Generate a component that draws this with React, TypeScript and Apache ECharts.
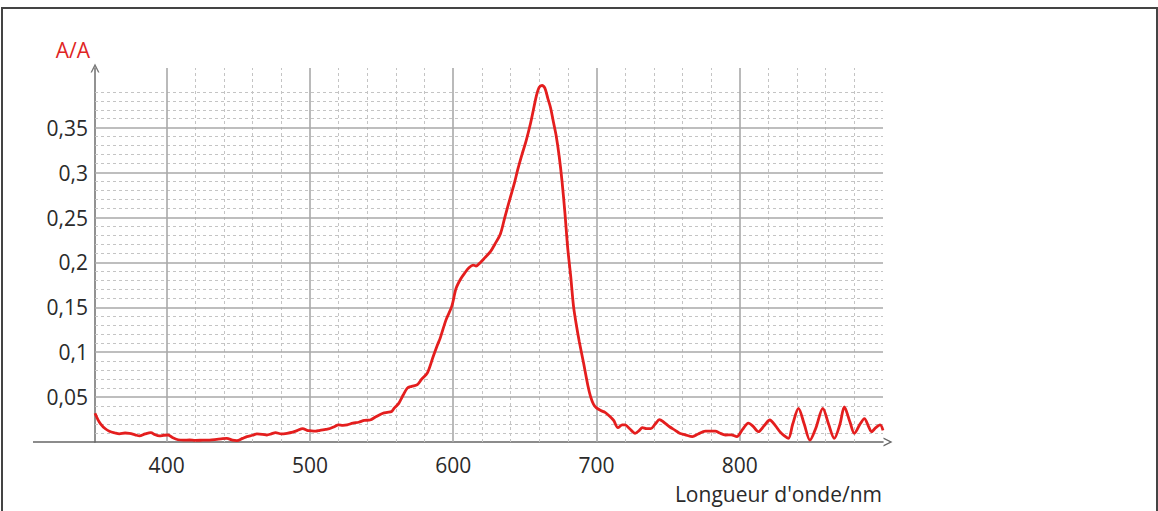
import React, { useEffect, useRef } from "react";
import * as echarts from "echarts";

const wavelengths = [
  350, 352, 354, 357, 360, 364, 367, 371, 374, 378, 381, 385, 389, 392, 395, 398,
  401, 404, 408, 412, 416, 420, 425, 430, 435, 438, 442, 446, 449, 453, 456, 460,
  463, 467, 470, 473, 476, 480, 484, 488, 491, 495, 498, 500, 504, 507, 511, 514,
  517, 520, 523, 526, 530, 534, 538, 542, 546, 551, 554, 557, 559, 562, 565, 568,
  571, 575, 578, 582, 586, 589, 591, 595, 599, 602, 605, 608, 611, 614, 616, 619,
  622, 626, 629, 633, 636, 640, 643, 645, 648, 651, 654, 656, 658, 660, 662, 664,
  666, 668, 670, 672, 674, 676, 678, 680, 682, 684, 686, 688, 691, 694, 696, 698,
  700, 703, 706, 709, 712, 715, 718, 720, 723, 727, 730, 732, 735, 738, 741, 744,
  747, 751, 755, 758, 762, 767, 771, 776, 780, 783, 786, 790, 794, 798, 802, 806,
  809, 813, 817, 821, 825, 828, 831, 834, 837, 841, 845, 849, 853, 858, 862, 866,
  870, 873, 877, 880, 884, 887, 890, 892, 895, 898, 900,
];

const absorbance = [
  0.032, 0.025, 0.02, 0.015, 0.012, 0.01, 0.009, 0.01, 0.0095, 0.008, 0.0068, 0.009, 0.0105, 0.008, 0.0068, 0.0075,
  0.0078, 0.005, 0.0025, 0.002, 0.0022, 0.0018, 0.002, 0.0022, 0.003, 0.0035, 0.004, 0.002, 0.0015, 0.004, 0.006, 0.0075,
  0.009, 0.0085, 0.0078, 0.009, 0.0104, 0.009, 0.0097, 0.011, 0.0126, 0.015, 0.013, 0.0126, 0.012, 0.013, 0.014, 0.015,
  0.017, 0.019, 0.0185, 0.019, 0.021, 0.022, 0.024, 0.0245, 0.028, 0.032, 0.033, 0.034, 0.038, 0.043, 0.052, 0.06,
  0.062, 0.064, 0.07, 0.077, 0.095, 0.108, 0.116, 0.136, 0.151, 0.171, 0.181, 0.188, 0.194, 0.197, 0.196, 0.2,
  0.205, 0.212, 0.22, 0.232, 0.25, 0.273, 0.29, 0.303, 0.32, 0.336, 0.355, 0.37, 0.385, 0.395, 0.397, 0.394,
  0.383, 0.372, 0.356, 0.34, 0.318, 0.29, 0.255, 0.215, 0.185, 0.151, 0.13, 0.112, 0.088, 0.063, 0.05, 0.042,
  0.038, 0.035, 0.033, 0.029, 0.024, 0.016, 0.019, 0.019, 0.015, 0.0097, 0.013, 0.016, 0.015, 0.015, 0.02, 0.025,
  0.022, 0.017, 0.013, 0.0097, 0.008, 0.006, 0.009, 0.0122, 0.012, 0.0122, 0.01, 0.0078, 0.008, 0.006, 0.014, 0.021,
  0.018, 0.0115, 0.018, 0.0245, 0.018, 0.0115, 0.007, 0.004, 0.02, 0.0375, 0.02, 0.002, 0.015, 0.0375, 0.02, 0.004,
  0.02, 0.039, 0.022, 0.0097, 0.02, 0.026, 0.017, 0.0115, 0.016, 0.019, 0.013,
];

const xLabelValues = [400, 500, 600, 700, 800];
const majorX = [400, 500, 600, 700, 800];
const minorX = [420, 440, 460, 480, 520, 540, 560, 580, 620, 640, 660, 680, 720, 740, 760, 780, 820, 840, 860, 880];
const majorY = [0.05, 0.1, 0.15, 0.2, 0.25, 0.3, 0.35];
const minorY = [
  0.01, 0.02, 0.03, 0.04, 0.06, 0.07, 0.08, 0.09, 0.11, 0.12, 0.13, 0.14, 0.16, 0.17, 0.18, 0.19,
  0.21, 0.22, 0.23, 0.24, 0.26, 0.27, 0.28, 0.29, 0.31, 0.32, 0.33, 0.34, 0.36, 0.37, 0.38, 0.39,
];

const xMin = 350;
const xMax = 900;
const yMax = 0.4165;
const yAxisName = "A/A";
const xAxisName = "Longueur d'onde/nm";

const FONT = "'Open Sans', 'Noto Sans', sans-serif";
const FS = 21;
const arrowPath = "path://M0,10 L5,0 L10,10 L8.4,10 L5,3.2 L1.6,10 Z";

export default function App() {
  const ref = useRef<HTMLDivElement>(null);
  useEffect(() => {
    if (!ref.current) return;
    const chart = echarts.init(ref.current, undefined, { renderer: "svg" });
    const data = wavelengths.map((w, i) => [w, absorbance[i]]);
    const solid = { color: "#a9a9a9", width: 1.6, type: "solid" };
    const dashed = { color: "#c4c4c4", width: 1, type: [3, 3] };
    const markData: any[] = [
      ...minorY.map((v) => ({ yAxis: v, lineStyle: dashed })),
      ...minorX.map((v) => ({ xAxis: v, lineStyle: dashed })),
      ...majorY.map((v) => ({ yAxis: v, lineStyle: solid })),
      ...majorX.map((v) => ({ xAxis: v, lineStyle: solid })),
    ];
    chart.setOption({
      animation: false,
      backgroundColor: "#ffffff",
      grid: { left: 95, right: 275, top: 68, bottom: 69, containLabel: false },
      xAxis: {
        type: "value",
        min: xMin,
        max: xMax,
        interval: 50,
        name: xAxisName,
        nameLocation: "end",
        nameGap: -1,
        nameTextStyle: {
          fontFamily: FONT,
          fontSize: FS,
          color: "#2a2a2a",
          align: "right",
          verticalAlign: "top",
          padding: [41, 0, 0, 0],
        },
        axisLine: {
          show: true,
          symbol: ["none", arrowPath],
          symbolSize: [10, 9],
          symbolOffset: [0, 5],
          lineStyle: { color: "#666", width: 1.6 },
        },
        axisTick: { show: false },
        splitLine: { show: false },
        axisLabel: {
          fontFamily: FONT,
          fontSize: FS,
          color: "#2a2a2a",
          margin: 12,
          formatter: (v: number) => (xLabelValues.includes(Math.round(v)) ? String(Math.round(v)) : ""),
        },
      },
      yAxis: {
        type: "value",
        min: 0,
        max: yMax,
        interval: 0.05,
        name: yAxisName,
        nameLocation: "end",
        nameGap: 8,
        nameTextStyle: {
          fontFamily: FONT,
          fontSize: FS,
          color: "#e02424",
          align: "right",
          verticalAlign: "bottom",
          padding: [0, 5, 0, 0],
        },
        axisLine: {
          show: true,
          symbol: ["none", arrowPath],
          symbolSize: [10, 9],
          lineStyle: { color: "#777", width: 1.6 },
        },
        axisTick: { show: false },
        splitLine: { show: false },
        axisLabel: {
          fontFamily: FONT,
          fontSize: FS,
          color: "#2a2a2a",
          margin: 7,
          verticalAlign: "middle",
          padding: [0, 0, 16, 0],
          formatter: (v: number) => {
            const r = Math.round(v * 100) / 100;
            if (r <= 0 || r > 0.36) return "";
            return String(r).replace(".", ",");
          },
        },
      },
      series: [
        {
          type: "line",
          data,
          z: 1,
          silent: true,
          showSymbol: false,
          lineStyle: { opacity: 0 },
          markLine: {
            silent: true,
            symbol: ["none", "none"],
            label: { show: false },
            emphasis: { disabled: true },
            data: markData,
          },
        },
        {
          type: "line",
          data,
          z: 5,
          showSymbol: false,
          smooth: 0.3,
          lineStyle: { color: "#e41e1e", width: 2.8 },
        },
      ],
      graphic: [
        {
          type: "rect",
          shape: { x: 2, y: 8, width: 1155, height: 600 },
          style: { fill: "none", stroke: "#444", lineWidth: 2 },
          silent: true,
        },
        {
          type: "line",
          shape: { x1: 33, y1: 442, x2: 95, y2: 442 },
          style: { stroke: "#666", lineWidth: 1.6 },
          silent: true,
        },
      ],
    });
    return () => chart.dispose();
  }, []);
  return (
    <div
      ref={ref}
      style={{ position: "fixed", left: 0, top: 0, width: 1158, height: 511, background: "#fff" }}
    />
  );
}
